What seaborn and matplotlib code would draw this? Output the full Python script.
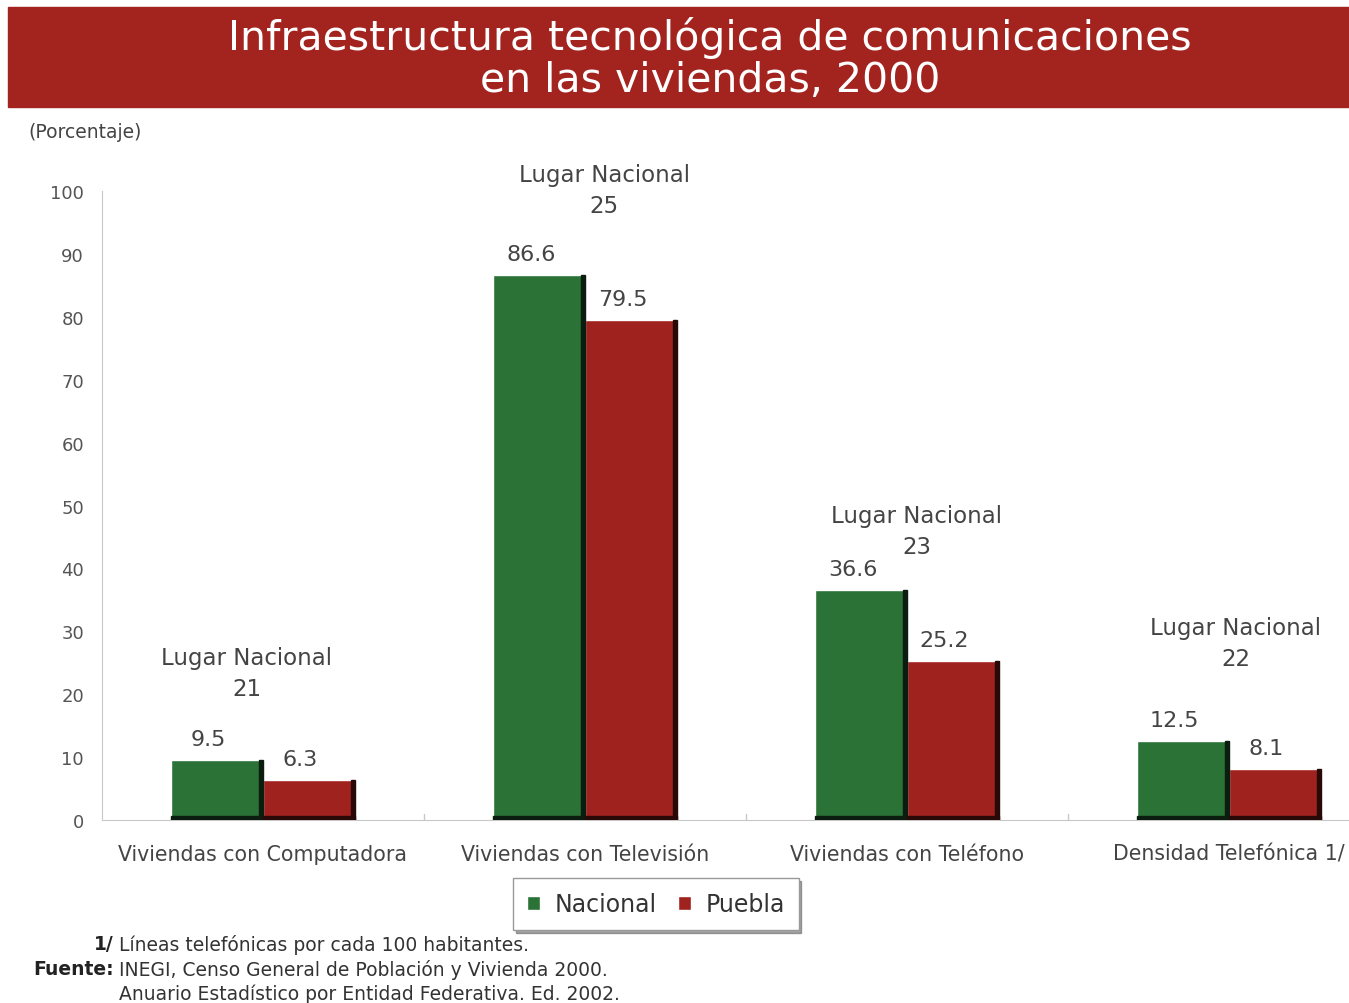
import pandas as pd
import seaborn as sns
import matplotlib.pyplot as plt
from matplotlib.patches import Rectangle

# datos
categorias = ['Viviendas con Computadora', 'Viviendas con Televisión',
              'Viviendas con Teléfono', 'Densidad Telefónica 1/']
nacional = [9.5, 86.6, 36.6, 12.5]
puebla = [6.3, 79.5, 25.2, 8.1]
lugar = [21, 25, 23, 22]
series = ['Nacional', 'Puebla']

# posicion de los textos "Lugar Nacional" (layout)
lugar_y = [23.4, 100.2, 45.9, 28.1]
lugar_dx = [-0.05, 0.06, 0.03, 0.02]

verde = '#2a7236'
rojo = '#a0221f'
gris = '#444444'

df = pd.DataFrame({
    'categoria': categorias * 2,
    'serie': ['Nacional'] * 4 + ['Puebla'] * 4,
    'valor': nacional + puebla,
})

sns.set_style('white')
plt.rcParams['font.family'] = ['DejaVu Sans']

fig = plt.figure(figsize=(13.49, 10.04), dpi=100)
ax = fig.add_axes([102 / 1349, 1 - 821 / 1004, 1 - 102 / 1349, (821 - 192) / 1004])

sns.barplot(data=df, x='categoria', y='valor', hue='serie', hue_order=series,
            order=categorias, palette=[verde, rojo], width=0.57,
            saturation=1, ax=ax, legend=True)

# efecto 3D: borde oscuro derecho e inferior + etiquetas de valor
barras = [p for p in ax.patches if p.get_height() > 0]
for p in barras:
    x0, w, h = p.get_x(), p.get_width(), p.get_height()
    fc = p.get_facecolor()
    dark = (fc[0] * 0.25, fc[1] * 0.25, fc[2] * 0.25, 1)
    ax.add_patch(Rectangle((x0 + w - 0.012, 0), 0.012, h, color=dark, zorder=3))
    ax.add_patch(Rectangle((x0, 0), w, 0.6, color=dark, zorder=3))
    ax.annotate(f'{h:.1f}', (x0 + w / 2, h), xytext=(-6, 8), textcoords='offset points',
                ha='center', va='bottom', fontsize=16, color=gris)

# Lugar Nacional
for i, l in enumerate(lugar):
    ax.text(i + lugar_dx[i], lugar_y[i], f'Lugar Nacional\n{l}', ha='center',
            va='center', fontsize=16.5, color=gris, linespacing=1.45)

ax.set_ylim(0, 100)
ax.set_xlim(-0.5, 3.5 - 41 / 322)
ax.set_yticks(range(0, 101, 10))
ax.tick_params(axis='y', labelsize=13, labelcolor='#555555', length=5,
               color='#bbbbbb', direction='out', pad=8)
ax.tick_params(axis='x', labelsize=14.8, labelcolor=gris, length=0, pad=17)
ax.set_xlabel('')
ax.set_ylabel('')
for s in ['top', 'right']:
    ax.spines[s].set_visible(False)
ax.spines['left'].set_color('#c8c8c8')
ax.spines['bottom'].set_color('#c8c8c8')
for b in [0.5, 1.5, 2.5]:
    ax.plot([b, b], [0, 1.0], color='#c8c8c8', lw=1, clip_on=False)

handles, labels = ax.get_legend_handles_labels()
ax.get_legend().remove()
leg = fig.legend(handles, labels, loc='center', bbox_to_anchor=(656 / 1349, 1 - 905 / 1004),
                 ncol=2, fontsize=17, handlelength=0.55, handleheight=0.55,
                 handletextpad=0.6, columnspacing=0.9, frameon=True, fancybox=False,
                 shadow=True, edgecolor='#999999', borderpad=0.6)
for t in leg.get_texts():
    t.set_color('#333333')

# banda del titulo
fig.patches.append(Rectangle((8 / 1349, 1 - 108 / 1004), 1, 100 / 1004,
                             transform=fig.transFigure, color='#a3231f', zorder=0))
fig.text(710 / 1349, 1 - 59 / 1004,
         'Infraestructura tecnológica de comunicaciones\nen las viviendas, 2000',
         ha='center', va='center', fontsize=29.5, color='white', linespacing=1.05)

fig.text(28 / 1349, 1 - 132 / 1004, '(Porcentaje)', fontsize=13.5, color=gris, va='center')

# notas
fig.text(114 / 1349, 1 - 945 / 1004, '1/', fontsize=13.5, fontweight='bold',
         color='#222222', ha='right', va='center')
fig.text(119 / 1349, 1 - 945 / 1004, 'Líneas telefónicas por cada 100 habitantes.',
         fontsize=13.5, color='#333333', va='center')
fig.text(114 / 1349, 1 - 970 / 1004, 'Fuente:', fontsize=13.5, fontweight='bold',
         color='#222222', ha='right', va='center')
fig.text(119 / 1349, 1 - 970 / 1004, 'INEGI, Censo General de Población y Vivienda 2000.',
         fontsize=13.5, color='#333333', va='center')
fig.text(119 / 1349, 1 - 994 / 1004, 'Anuario Estadístico por Entidad Federativa. Ed. 2002.',
         fontsize=13.5, color='#333333', va='center')

fig.savefig('out.png', dpi=100)
